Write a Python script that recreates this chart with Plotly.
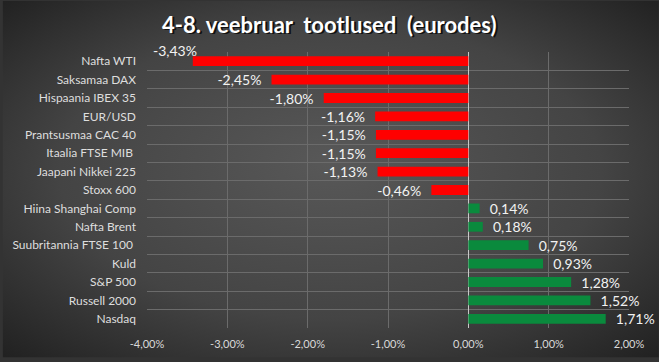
import base64
import plotly.graph_objects as go

categories = ["Nafta WTI", "Saksamaa DAX", "Hispaania IBEX 35", "EUR/USD", "Prantsusmaa CAC 40",
              "Itaalia FTSE MIB ", "Jaapani Nikkei 225", "Stoxx 600", "Hiina Shanghai Comp",
              "Nafta Brent", "Suubritannia FTSE 100 ", "Kuld", "S&P 500", "Russell 2000", "Nasdaq"]
values = [-3.43, -2.45, -1.80, -1.16, -1.15, -1.15, -1.13, -0.46, 0.14, 0.18, 0.75, 0.93, 1.28, 1.52, 1.71]
tick_values = [-4, -3, -2, -1, 0, 1, 2]
title_text = "4-8. veebruar  tootlused  (eurodes)"

W, H = 659, 362
ML, MR, MT, MB = 145, 30, 52, 30

def fmt(v):
    return f"{v:.2f}%".replace(".", ",")

NB = "\u00a0"
colors = ["#ff0000" if v < 0 else "#0a8a3d" for v in values]
texts = []
for i, v in enumerate(values):
    if i == 0:
        texts.append("")
    elif v < 0:
        texts.append(fmt(v) + NB * 2)
    else:
        texts.append(NB * 2 + fmt(v))

svg = f'''<svg xmlns="http://www.w3.org/2000/svg" width="{W}" height="{H}" viewBox="0 0 {W} {H}" preserveAspectRatio="none">
<defs><radialGradient id="g" cx="50%" cy="50%" r="75%" fx="50%" fy="45%">
<stop offset="0%" stop-color="#585858"/><stop offset="55%" stop-color="#444444"/><stop offset="100%" stop-color="#1c1c1c"/>
</radialGradient></defs><rect width="{W}" height="{H}" fill="url(#g)"/></svg>'''
src = "data:image/svg+xml;base64," + base64.b64encode(svg.encode()).decode()

pw = W - ML - MR
ph = H - MT - MB

label_font = dict(family="Lato", size=14, color="#f2f2f2")

fig = go.Figure()
fig.add_trace(go.Bar(
    x=values, y=categories, orientation="h",
    marker=dict(color=colors, line=dict(width=0)),
    width=0.53,
    text=texts, textposition="outside", cliponaxis=False, constraintext="none",
    textfont=label_font,
    hoverinfo="skip",
))

title_y = 1 + (MT - 24) / ph
title_x = (W / 2 - ML - 1) / pw

fig.update_layout(
    width=W, height=H,
    margin=dict(l=ML, r=MR, t=MT, b=MB),
    paper_bgcolor="#333333", plot_bgcolor="rgba(0,0,0,0)",
    showlegend=False,
    images=[dict(source=src, xref="paper", yref="paper",
                 x=-ML / pw, y=1 + MT / ph, sizex=W / pw, sizey=H / ph,
                 xanchor="left", yanchor="top", sizing="stretch", layer="below")],
    xaxis=dict(range=[-4, 2], tickvals=tick_values, ticktext=[fmt(t) for t in tick_values],
               showgrid=True, gridcolor="#6b6b6b", gridwidth=1,
               zeroline=True, zerolinecolor="#c8c8c8", zerolinewidth=1,
               tickfont=dict(family="Lato", size=11, color="#d9d9d9"),
               ticklabelstandoff=8, showline=False, fixedrange=True),
    yaxis=dict(autorange="reversed", tickson="boundaries", ticks="", showgrid=True,
               gridcolor="#6b6b6b", gridwidth=1,
               tickfont=dict(family="Lato", size=12, color="#dedede"),
               ticklabelstandoff=10, showline=False),
    annotations=[
        dict(text=fmt(values[0]), x=values[0], y=categories[0], xref="x", yref="y",
             xanchor="right", yanchor="middle", xshift=6, yshift=11, showarrow=False,
             font=label_font),
        dict(text="<b>" + title_text + "</b>", xref="paper", yref="paper",
             x=title_x, y=title_y, xshift=1.5, yshift=-1.5, xanchor="center", yanchor="middle",
             showarrow=False, font=dict(family="Lato", size=22, color="#111111")),
        dict(text="<b>" + title_text + "</b>", xref="paper", yref="paper",
             x=title_x, y=title_y, xanchor="center", yanchor="middle",
             showarrow=False, font=dict(family="Lato", size=22, color="#ffffff")),
    ],
)

fig.write_html("out.html")
